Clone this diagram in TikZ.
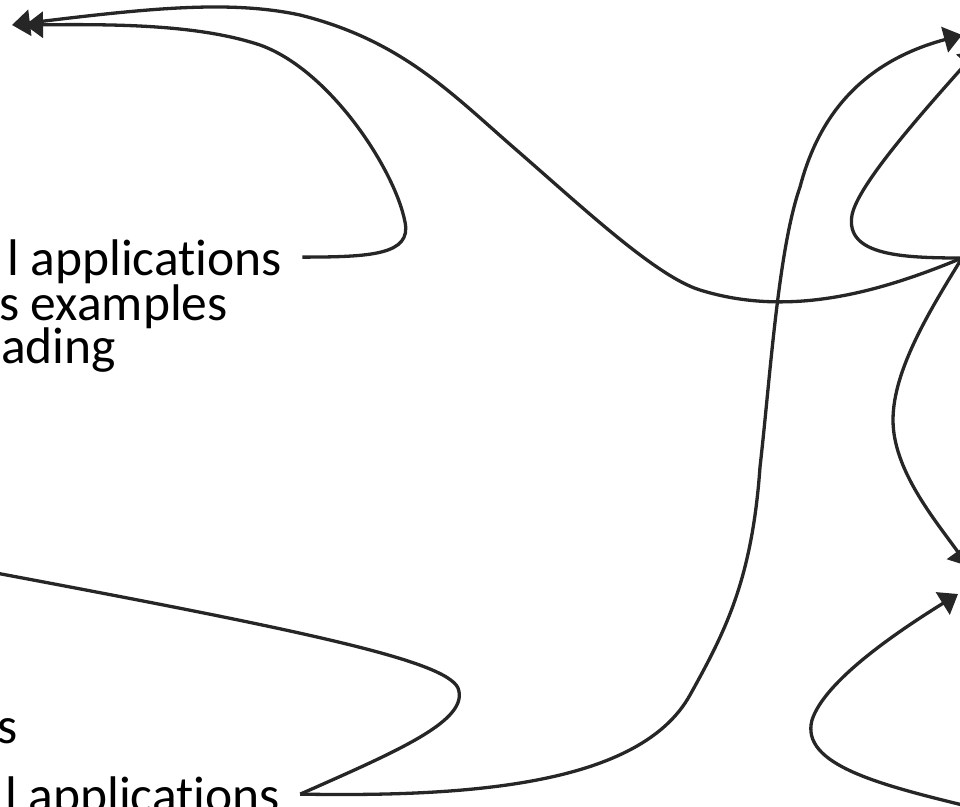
\documentclass[tikz,border=0pt]{standalone}
\usepackage{fontspec}
\setmainfont{Carlito}[Ligatures={NoCommon,NoContextual}]
\usetikzlibrary{arrows.meta}
\definecolor{inkgray}{HTML}{262626}
\tikzset{
  leaftext/.style={anchor=base west, inner sep=0pt, text depth=0pt,
    font=\fontsize{51.5}{44}\selectfont, text=black},
  link/.style={draw=inkgray, line width=3.3pt},
  arrowed/.style={link, -{Triangle[length=18pt,width=26pt]}}
}
\begin{document}
\begin{tikzpicture}[x=1pt,y=-1pt]
\clip (0,0) rectangle (960,806);
% texts on the left
\node[leaftext] (apptop) at (7,275) {l applications};
\node[leaftext] (examples) at (-1,320) {s examples};
\node[leaftext] (reading) at (1,363) {ading};
\node[leaftext] (sbottom) at (-3,743) {s};
\node[leaftext] (appbottom) at (5,812) {l applications};
% loose ends at the edges
\coordinate (topleftA) at (12,25);
\coordinate (topleftB) at (25,25);
\coordinate (hub) at (962,258);
\coordinate (toprightA) at (962,35);
\coordinate (toprightB) at (978,50);
\coordinate (midright) at (968,566);
\coordinate (lowright) at (958,594);
\coordinate (bottomright) at (975,808);
\coordinate (leftedge) at (-20,570);
% links
\draw[arrowed] ([xshift=20pt]apptop.east) .. controls (370,257) and (412,255) .. (405,222)
  .. controls (395,170) and (330,70) .. (260,45)
  .. controls (200,25) and (120,24) .. (topleftB);
\draw[arrowed] (hub) .. controls (880,292) and (790,318) .. (700,290)
  .. controls (655,276) and (580,205) .. (513,147)
  .. controls (450,92) and (400,40) .. (300,15)
  .. controls (230,0) and (150,8) .. (topleftA);
\draw[arrowed] (hub) .. controls (900,258) and (845,255) .. (852,215)
  .. controls (858,185) and (920,115) .. (toprightB);
\draw[arrowed] (hub) .. controls (930,310) and (893,370) .. (893,420)
  .. controls (893,470) and (935,520) .. (midright);
\draw[arrowed] ([xshift=20pt]appbottom.east) .. controls (470,797) and (640,785) .. (690,695)
  .. controls (725,632) and (752,580) .. (760,467)
  .. controls (770,380) and (778,250) .. (800,187)
  .. controls (815,130) and (850,65) .. (toprightA);
\draw[link] ([xshift=20pt]appbottom.east) .. controls (400,750) and (470,720) .. (458,688)
  .. controls (445,660) and (300,630) .. (leftedge);
\draw[arrowed] (bottomright) .. controls (880,785) and (800,765) .. (812,720)
  .. controls (825,680) and (900,630) .. (lowright);
\end{tikzpicture}
\end{document}
